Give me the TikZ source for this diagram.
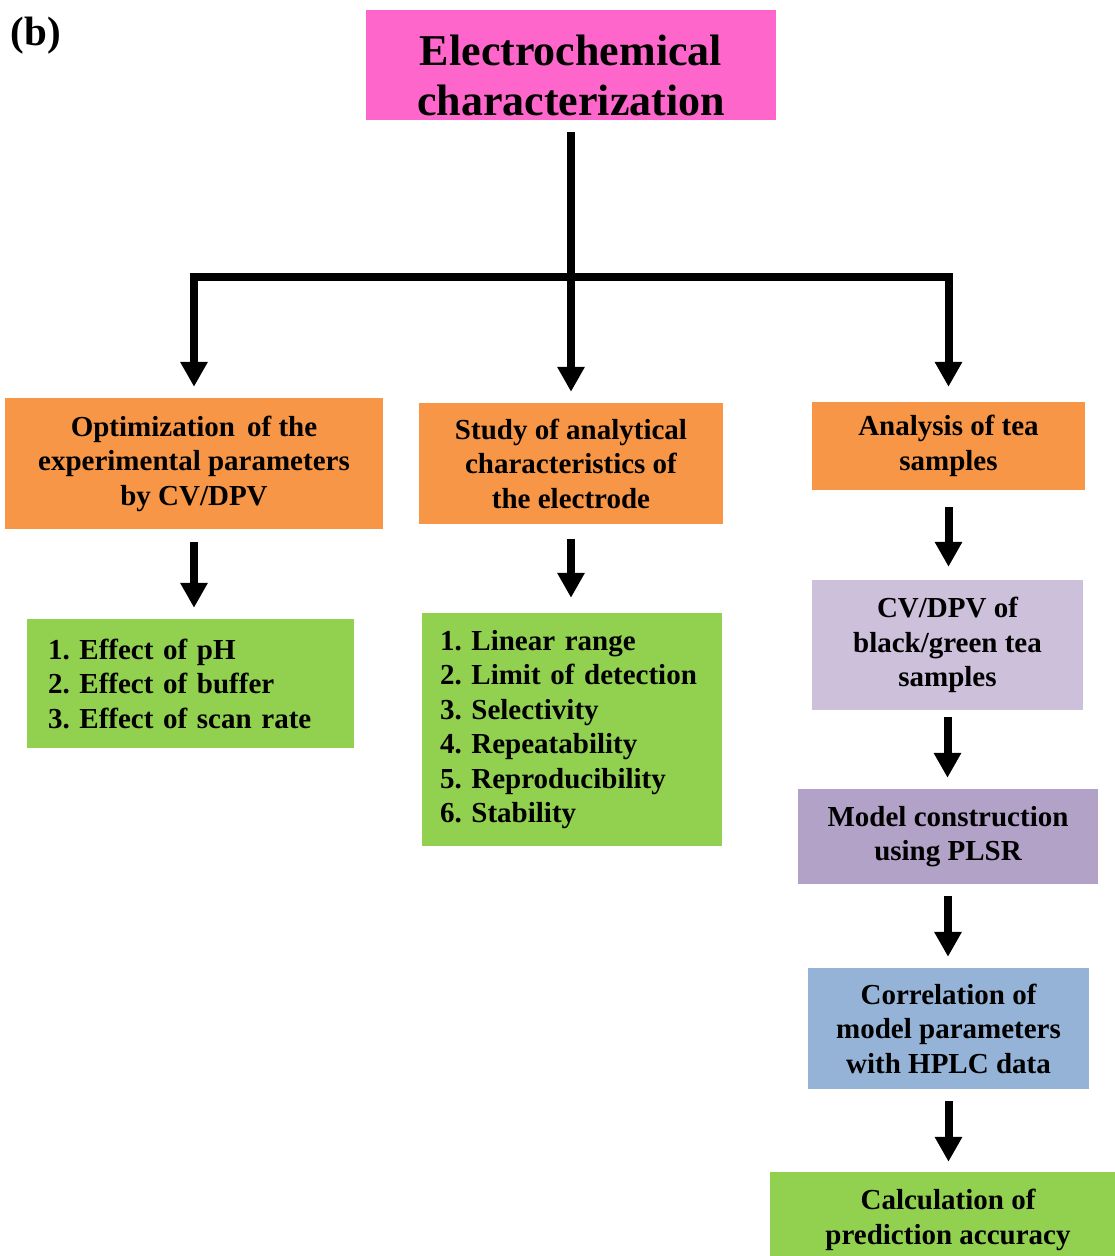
\documentclass[tikz,border=0pt]{standalone}
\usepackage{fontspec}
\setmainfont{Liberation Serif}
\usetikzlibrary{arrows.meta}
\definecolor{cpink}{HTML}{FF66CC}
\definecolor{corange}{HTML}{F79646}
\definecolor{cgreen}{HTML}{92D050}
\definecolor{clav}{HTML}{CCC0DA}
\definecolor{cpurple}{HTML}{B3A2C7}
\definecolor{cblue}{HTML}{95B3D7}
\newcommand\mybody{\fontsize{29}{34.5}\selectfont\bfseries\frenchspacing}
\newcommand\mylist{\fontsize{29}{34.5}\selectfont\bfseries\frenchspacing\spaceskip=0.2em plus 0.05em\relax}
\newcommand\mytitle{\fontsize{44}{50}\selectfont\bfseries}
\begin{document}
\begin{tikzpicture}[x=1pt,y=-1pt,
  box/.style={rectangle, draw=none, inner sep=0pt, align=center, font=\mybody},
  listbox/.style={rectangle, draw=none, inner ysep=0pt, align=left, font=\mylist},
  arr/.style={line width=8pt, -{Triangle[width=26pt,length=25pt]}, shorten <=12pt, shorten >=11pt}]
\useasboundingbox (0,0) rectangle (1115,1256);
\fill[white] (0,0) rectangle (1115,1256);

\node[font=\fontsize{41}{46}\selectfont\bfseries, inner sep=0pt] (lab) at (36,36) {(b)};

\node[box, fill=cpink, minimum width=410pt, minimum height=110pt] (top) at (571,65) {};
\node[font=\mytitle, align=center, inner sep=0pt] (toptext) at (571,75) {Electrochemical\\characterization};

\node[box, fill=corange, minimum width=378pt, minimum height=131pt] (opt) at (194,463.5)
  {Optimization\, of the\\experimental parameters\\by CV/DPV};
\node[box, fill=corange, minimum width=304pt, minimum height=121pt] (study) at (571,463.5)
  {Study of analytical\\characteristics of\\the electrode};
\node[box, fill=corange, minimum width=273pt, minimum height=88pt] (ana) at (948.5,446)
  {Analysis of tea\\samples};

\node[listbox, fill=cgreen, minimum width=327pt, minimum height=129pt, inner xsep=21pt, text width=285pt] (eff) at (190.5,683.5)
  {1. Effect of pH\\2. Effect of buffer\\3. Effect of scan rate};
\node[listbox, fill=cgreen, minimum width=300pt, minimum height=233pt, inner xsep=18pt, text width=264pt] (chars) at (572,729.5)
  {1. Linear range\\2. Limit of detection\\3. Selectivity\\4. Repeatability\\5. Reproducibility\\6. Stability};

\node[box, fill=clav, minimum width=271pt, minimum height=130pt] (cv) at (947.5,645)
  {CV/DPV of\\black/green tea\\samples};
\node[box, fill=cpurple, minimum width=300pt, minimum height=95pt] (model) at (948,836.5)
  {Model construction\\using PLSR};
\node[box, fill=cblue, minimum width=281pt, minimum height=121pt] (corr) at (948.5,1028.5)
  {Correlation of\\model parameters\\with HPLC data};
\node[box, fill=cgreen, minimum width=356pt, minimum height=96pt] (calc) at (948,1220)
  {Calculation of\\prediction accuracy};

\coordinate (jm) at (571,277);

\draw[arr] (top.south) -- (study.north);
\draw[arr, shorten <=0pt] (jm) -| (opt.north);
\draw[arr, shorten <=0pt, shorten >=15pt] (jm) -| (ana.north);

\draw[arr, shorten <=13pt] (opt.south) -- (eff.north -| opt.south);
\draw[arr, shorten <=15pt, shorten >=15pt] (study.south) -- (chars.north -| study.south);
\draw[arr, shorten <=17pt, shorten >=13pt] (ana.south) -- (cv.north -| ana.south);
\draw[arr, shorten <=7pt] (cv.south) -- (model.north -| cv.south);
\draw[arr] (model.south) -- (corr.north -| model.south);
\draw[arr, shorten >=10pt] (corr.south) -- (calc.north -| corr.south);
\end{tikzpicture}
\end{document}
